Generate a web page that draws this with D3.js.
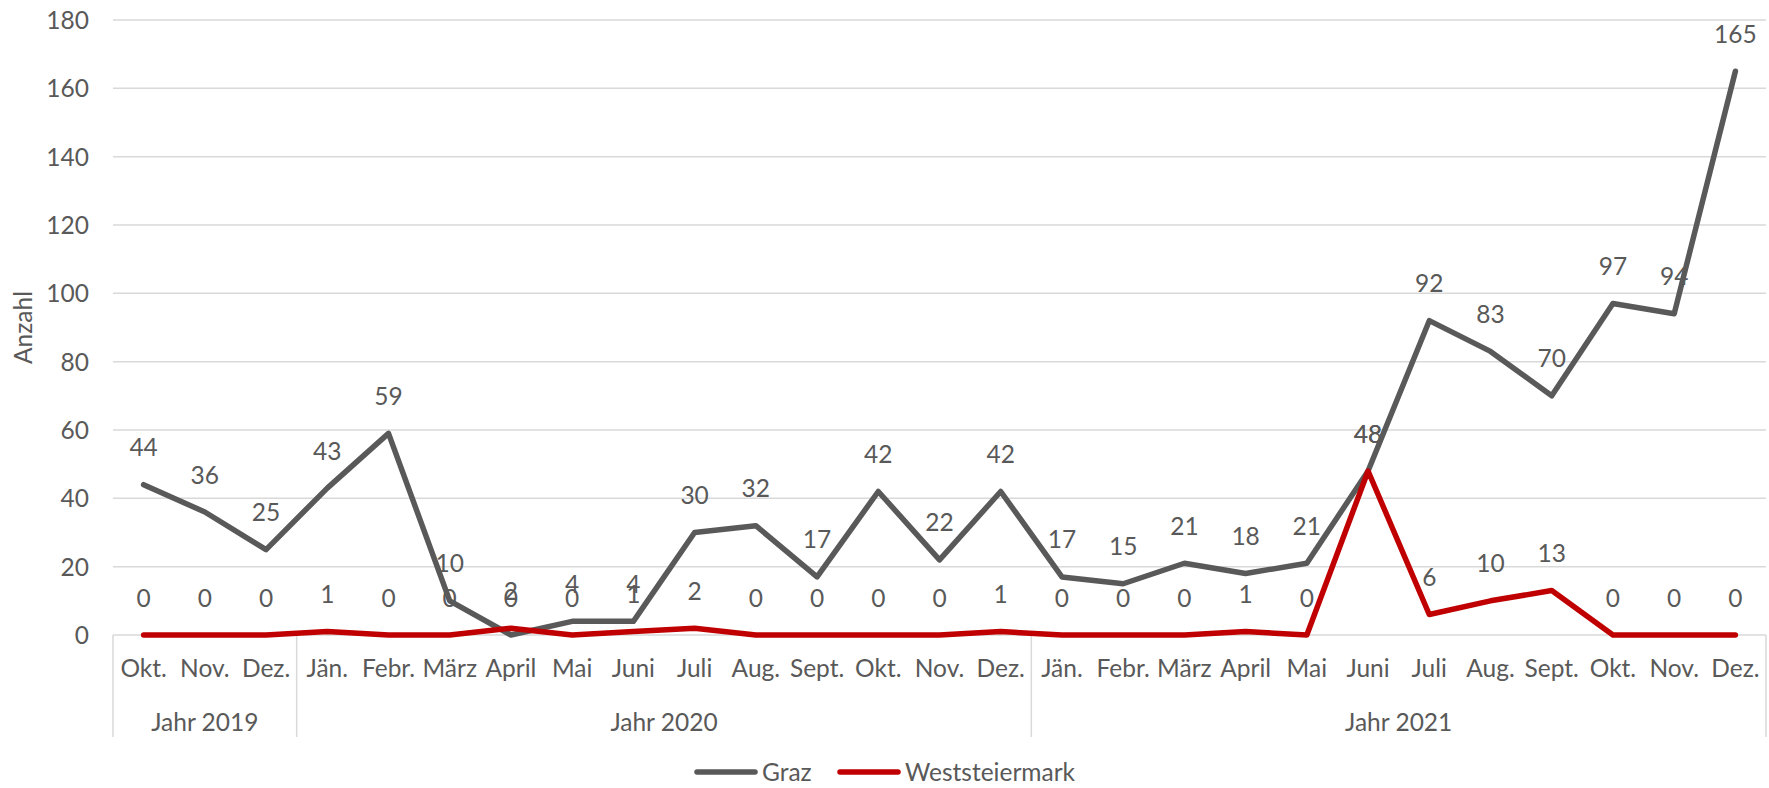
<!DOCTYPE html>
<html><head><meta charset="utf-8">
<script src="https://cdn.jsdelivr.net/npm/d3@7"></script>
<style>
html,body{margin:0;padding:0;background:#fff;}
svg{display:block;}
text{font-family:Lato,"Open Sans",sans-serif;fill:#595959;}
</style></head>
<body>
<svg id="chart" width="1769" height="788"></svg>
<script>
const months = ["Okt.","Nov.","Dez.","Jän.","Febr.","März","April","Mai","Juni","Juli","Aug.","Sept.","Okt.","Nov.","Dez.","Jän.","Febr.","März","April","Mai","Juni","Juli","Aug.","Sept.","Okt.","Nov.","Dez."];
const yearLabels = ["Jahr 2019","Jahr 2020","Jahr 2021"];
const yearSpans = [3,12,12];
const graz = [44,36,25,43,59,10,0,4,4,30,32,17,42,22,42,17,15,21,18,21,48,92,83,70,97,94,165];
const weststeiermark = [0,0,0,1,0,0,2,0,1,2,0,0,0,0,1,0,0,0,1,0,48,6,10,13,0,0,0];
const yTicks = [0,20,40,60,80,100,120,140,160,180];
const seriesNames = ["Graz","Weststeiermark"];
const seriesColors = ["#595959","#c00000"];

(function(){
const mLeft = 113, mRight = 1766, mTop = 20, mBottom = 635;
const FS = 24.5;
const svg = d3.select("#chart");

const x = d3.scaleBand().domain(d3.range(months.length)).range([mLeft, mRight]).padding(0);
const xc = i => x(i) + x.bandwidth()/2;
const y = d3.scaleLinear().domain([0,180]).range([mBottom, mTop]);

svg.append("g").selectAll("line").data(yTicks).join("line")
  .attr("x1", mLeft).attr("x2", mRight)
  .attr("y1", d => y(d)).attr("y2", d => y(d))
  .attr("stroke", "#d9d9d9").attr("stroke-width", 1.5);

const yAxis = d3.axisLeft(y).tickValues(yTicks).tickSize(0).tickPadding(0);
const ya = svg.append("g").attr("transform", `translate(89,0)`).call(yAxis);
ya.select(".domain").remove();
ya.selectAll("text").attr("font-size", FS).attr("font-family","Lato").attr("fill","#595959").attr("dy","0.35em");

svg.append("text").attr("transform", `translate(32,${(mTop+mBottom)/2}) rotate(-90)`)
  .attr("text-anchor","middle").attr("font-size", FS).text("Anzahl");

const xAxis = d3.axisBottom(x).tickFormat(i => months[i]).tickSize(0).tickPadding(0);
const xa = svg.append("g").attr("transform", `translate(0,668)`).call(xAxis);
xa.select(".domain").remove();
xa.selectAll("text").attr("font-size", FS).attr("font-family","Lato").attr("fill","#595959").attr("dy","0.35em");

let acc = 0;
const bounds = [0];
yearSpans.forEach(s => { acc += s; bounds.push(acc); });
const bx = d => d < months.length ? x(d) : mRight;
svg.append("g").selectAll("line").data(bounds).join("line")
  .attr("x1", bx).attr("x2", bx)
  .attr("y1", mBottom).attr("y2", 737)
  .attr("stroke", "#d9d9d9").attr("stroke-width", 1.5);
svg.append("g").selectAll("text").data(yearLabels).join("text")
  .attr("x", (d,i) => (bx(bounds[i]) + bx(bounds[i+1]))/2)
  .attr("y", 722).attr("dy","0.35em").attr("text-anchor","middle").attr("font-size", FS).text(d => d);

const line = d3.line().x((d,i) => xc(i)).y(d => y(d));
const allSeries = [graz, weststeiermark];
allSeries.forEach((s, k) => {
  svg.append("path").datum(s).attr("d", line)
    .attr("fill","none").attr("stroke", seriesColors[k]).attr("stroke-width", 5.5)
    .attr("stroke-linejoin","round").attr("stroke-linecap","round");
});

allSeries.forEach((s, k) => {
  svg.append("g").selectAll("text").data(s).join("text")
    .attr("x", (d,i) => xc(i)).attr("y", d => y(d) - 37).attr("dy","0.35em")
    .attr("text-anchor","middle").attr("font-size", FS).text(d => d);
});

const lg = svg.append("g");
const legX = [697, 840];
const legY = 772;
seriesNames.forEach((n, k) => {
  const lx = legX[k];
  lg.append("line").attr("x1", lx).attr("x2", lx + 58).attr("y1", legY).attr("y2", legY)
    .attr("stroke", seriesColors[k]).attr("stroke-width", 5.5).attr("stroke-linecap","round");
  lg.append("text").attr("x", lx + 65).attr("y", legY).attr("dy","0.35em").attr("font-size", FS).text(n);
});
})();
</script>
</body></html>
